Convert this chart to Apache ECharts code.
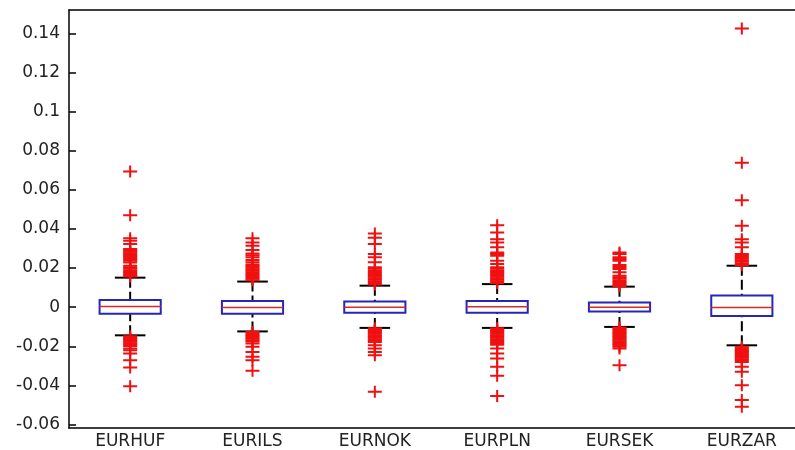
<!DOCTYPE html>
<html>
<head>
<meta charset="utf-8">
<script src="https://cdn.jsdelivr.net/npm/echarts@6/dist/echarts.min.js"></script>
<style>
html, body { margin: 0; padding: 0; background: #fff; }
#chart { width: 795px; height: 450px; }
</style>
</head>
<body>
<div id="chart"></div>
<script>
// currency pairs
const categories = ['EURHUF', 'EURILS', 'EURNOK', 'EURPLN', 'EURSEK', 'EURZAR'];

// [lower whisker, q1, median, q3, upper whisker]
const boxStats = [
  [-0.0144, -0.0034, 0.0003, 0.0037, 0.0151],
  [-0.0124, -0.0034, -0.0002, 0.0031, 0.0131],
  [-0.0106, -0.0029, 0.0000, 0.0029, 0.0110],
  [-0.0106, -0.0029, 0.0002, 0.0031, 0.0118],
  [-0.0101, -0.0022, 0.0000, 0.0024, 0.0105],
  [-0.0195, -0.0045, -0.0002, 0.0060, 0.0212]
];

// outliers (red +)
const outHUF = [0.0694, 0.047, 0.0353, 0.034, 0.0323, 0.0297, 0.029, 0.0283, 0.0276, 0.027, 0.0262,
  0.0255, 0.0246, 0.0238, 0.0228, 0.0212, 0.0204, 0.0196, 0.0188, 0.018, 0.0172, 0.0164, 0.0157,
  -0.0149, -0.0156, -0.0163, -0.017, -0.0177, -0.0184, -0.0191, -0.0198, -0.0212, -0.022,
  -0.0237, -0.0271, -0.0309, -0.0404];
const outILS = [0.0353, 0.0331, 0.0314, 0.0292, 0.0275, 0.0265, 0.0255, 0.0241, 0.023, 0.0218,
  0.021, 0.0202, 0.0194, 0.0186, 0.0178, 0.017, 0.0162, 0.0154, 0.0146, 0.0138,
  -0.0127, -0.0134, -0.0141, -0.0148, -0.0155, -0.0162, -0.0169, -0.0176, -0.0186, -0.0203,
  -0.0229, -0.0254, -0.0271, -0.0325];
const outNOK = [0.0377, 0.0355, 0.0323, 0.0272, 0.0255, 0.023, 0.0204, 0.0196, 0.0188, 0.018,
  0.0172, 0.0164, 0.0156, 0.0148, 0.014, 0.0132, 0.0124, 0.0116,
  -0.0108, -0.0115, -0.0122, -0.0129, -0.0136, -0.0143, -0.015, -0.0157, -0.0164, -0.0171,
  -0.0178, -0.0195, -0.0212, -0.0229, -0.0246, -0.0432];
const outPLN = [0.0419, 0.0382, 0.0348, 0.0331, 0.0306, 0.028, 0.0272, 0.0263, 0.0238, 0.0221,
  0.0204, 0.0196, 0.0188, 0.018, 0.0172, 0.0164, 0.0156, 0.0148, 0.014, 0.0132, 0.0124,
  -0.0108, -0.0115, -0.0122, -0.0129, -0.0136, -0.0143, -0.015, -0.0157, -0.0164, -0.0171,
  -0.0178, -0.0185, -0.0192, -0.0212, -0.0237, -0.0263, -0.0305, -0.0351, -0.0454];
const outSEK = [0.028, 0.0272, 0.0255, 0.0246, 0.0238, 0.0216, 0.0205, 0.0195, 0.0179, 0.0161,
  0.0153, 0.0145, 0.0137, 0.0129, 0.0121, 0.0113, 0.0107,
  -0.0104, -0.0111, -0.0118, -0.0125, -0.0132, -0.0139, -0.0146, -0.0153, -0.016, -0.0167,
  -0.0174, -0.0181, -0.0188, -0.0195, -0.0203, -0.0212, -0.0297];
const outZAR = [0.1426, 0.0739, 0.0547, 0.0416, 0.0348, 0.0331, 0.0306, 0.0272, 0.0264, 0.0256,
  0.0248, 0.024, 0.0232, 0.0224, 0.0216,
  -0.0203, -0.021, -0.0217, -0.0224, -0.0231, -0.0238, -0.0245, -0.0252, -0.0259, -0.0266,
  -0.0273, -0.028, -0.0305, -0.033, -0.0399, -0.0475, -0.0509];
const outliers = [outHUF, outILS, outNOK, outPLN, outSEK, outZAR];

// y tick labels
const yTicks = [-0.06, -0.04, -0.02, 0, 0.02, 0.04, 0.06, 0.08, 0.1, 0.12, 0.14];

const chart = echarts.init(document.getElementById('chart'));

const boxData = boxStats.map((s, i) => [i].concat(s));
const outData = [];
outliers.forEach((arr, i) => arr.forEach(v => outData.push([i, v])));

const option = {
  animation: false,
  backgroundColor: '#fff',
  grid: {
    left: 69, top: 10, width: 734, height: 418,
    outerBoundsMode: 'none'
  },
  xAxis: [
    {
      type: 'category',
      data: categories,
      boundaryGap: true,
      axisLine: { onZero: false, lineStyle: { color: '#000', width: 1.5 } },
      axisTick: { show: false },
      axisLabel: { color: '#222', fontSize: 17, fontFamily: 'DejaVu Sans', margin: 5 },
      splitLine: { show: false }
    },
    {
      // top frame line only
      type: 'category',
      data: categories,
      position: 'top',
      axisLine: { onZero: false, lineStyle: { color: '#000', width: 1.5 } },
      axisTick: { show: false },
      axisLabel: { show: false },
      splitLine: { show: false }
    }
  ],
  yAxis: {
    type: 'value',
    min: -0.0618,
    max: 0.152,
    axisLine: { show: true, onZero: false, lineStyle: { color: '#000', width: 1.5 } },
    axisTick: { show: true, inside: true, length: 7, customValues: yTicks, lineStyle: { color: '#000', width: 1.5 } },
    axisLabel: {
      customValues: yTicks, color: '#222', fontSize: 17, fontFamily: 'DejaVu Sans', margin: 9,
      formatter: v => String(Math.round(v * 100) / 100)
    },
    splitLine: { show: false }
  },
  series: [
    {
      type: 'custom',
      data: boxData,
      encode: { x: 0, y: [1, 2, 3, 4, 5] },
      z: 2,
      renderItem: function (params, api) {
        const i = api.value(0);
        const lo = api.coord([i, api.value(1)]);
        const q1 = api.coord([i, api.value(2)]);
        const md = api.coord([i, api.value(3)]);
        const q3 = api.coord([i, api.value(4)]);
        const hi = api.coord([i, api.value(5)]);
        const band = api.size([1, 0])[0];
        const bw = band * 0.25, cw = band * 0.125;
        const cx = lo[0];
        const wStyle = { stroke: '#000', lineWidth: 2, lineDash: [10, 4] };
        const cStyle = { stroke: '#000', lineWidth: 2 };
        return {
          type: 'group',
          children: [
            { type: 'line', shape: { x1: cx, y1: hi[1], x2: cx, y2: q3[1] }, style: wStyle },
            { type: 'line', shape: { x1: cx, y1: lo[1], x2: cx, y2: q1[1] }, style: wStyle },
            { type: 'line', shape: { x1: cx - cw, y1: hi[1], x2: cx + cw, y2: hi[1] }, style: cStyle },
            { type: 'line', shape: { x1: cx - cw, y1: lo[1], x2: cx + cw, y2: lo[1] }, style: cStyle },
            { type: 'rect', shape: { x: cx - bw, y: q3[1], width: bw * 2, height: q1[1] - q3[1] },
              style: { fill: 'none', stroke: '#2626b8', lineWidth: 2 } },
            { type: 'line', shape: { x1: cx - bw, y1: md[1], x2: cx + bw, y2: md[1] },
              style: { stroke: '#e02828', lineWidth: 1.5 } }
          ]
        };
      }
    },
    {
      type: 'scatter',
      data: outData,
      z: 3,
      symbol: 'path://M6,0H8V5H14V7H8V12H6V7H0V5H6Z',
      symbolSize: [14, 12],
      itemStyle: { color: '#f01010', opacity: 1 }
    }
  ]
};

chart.setOption(option);
</script>
</body>
</html>
